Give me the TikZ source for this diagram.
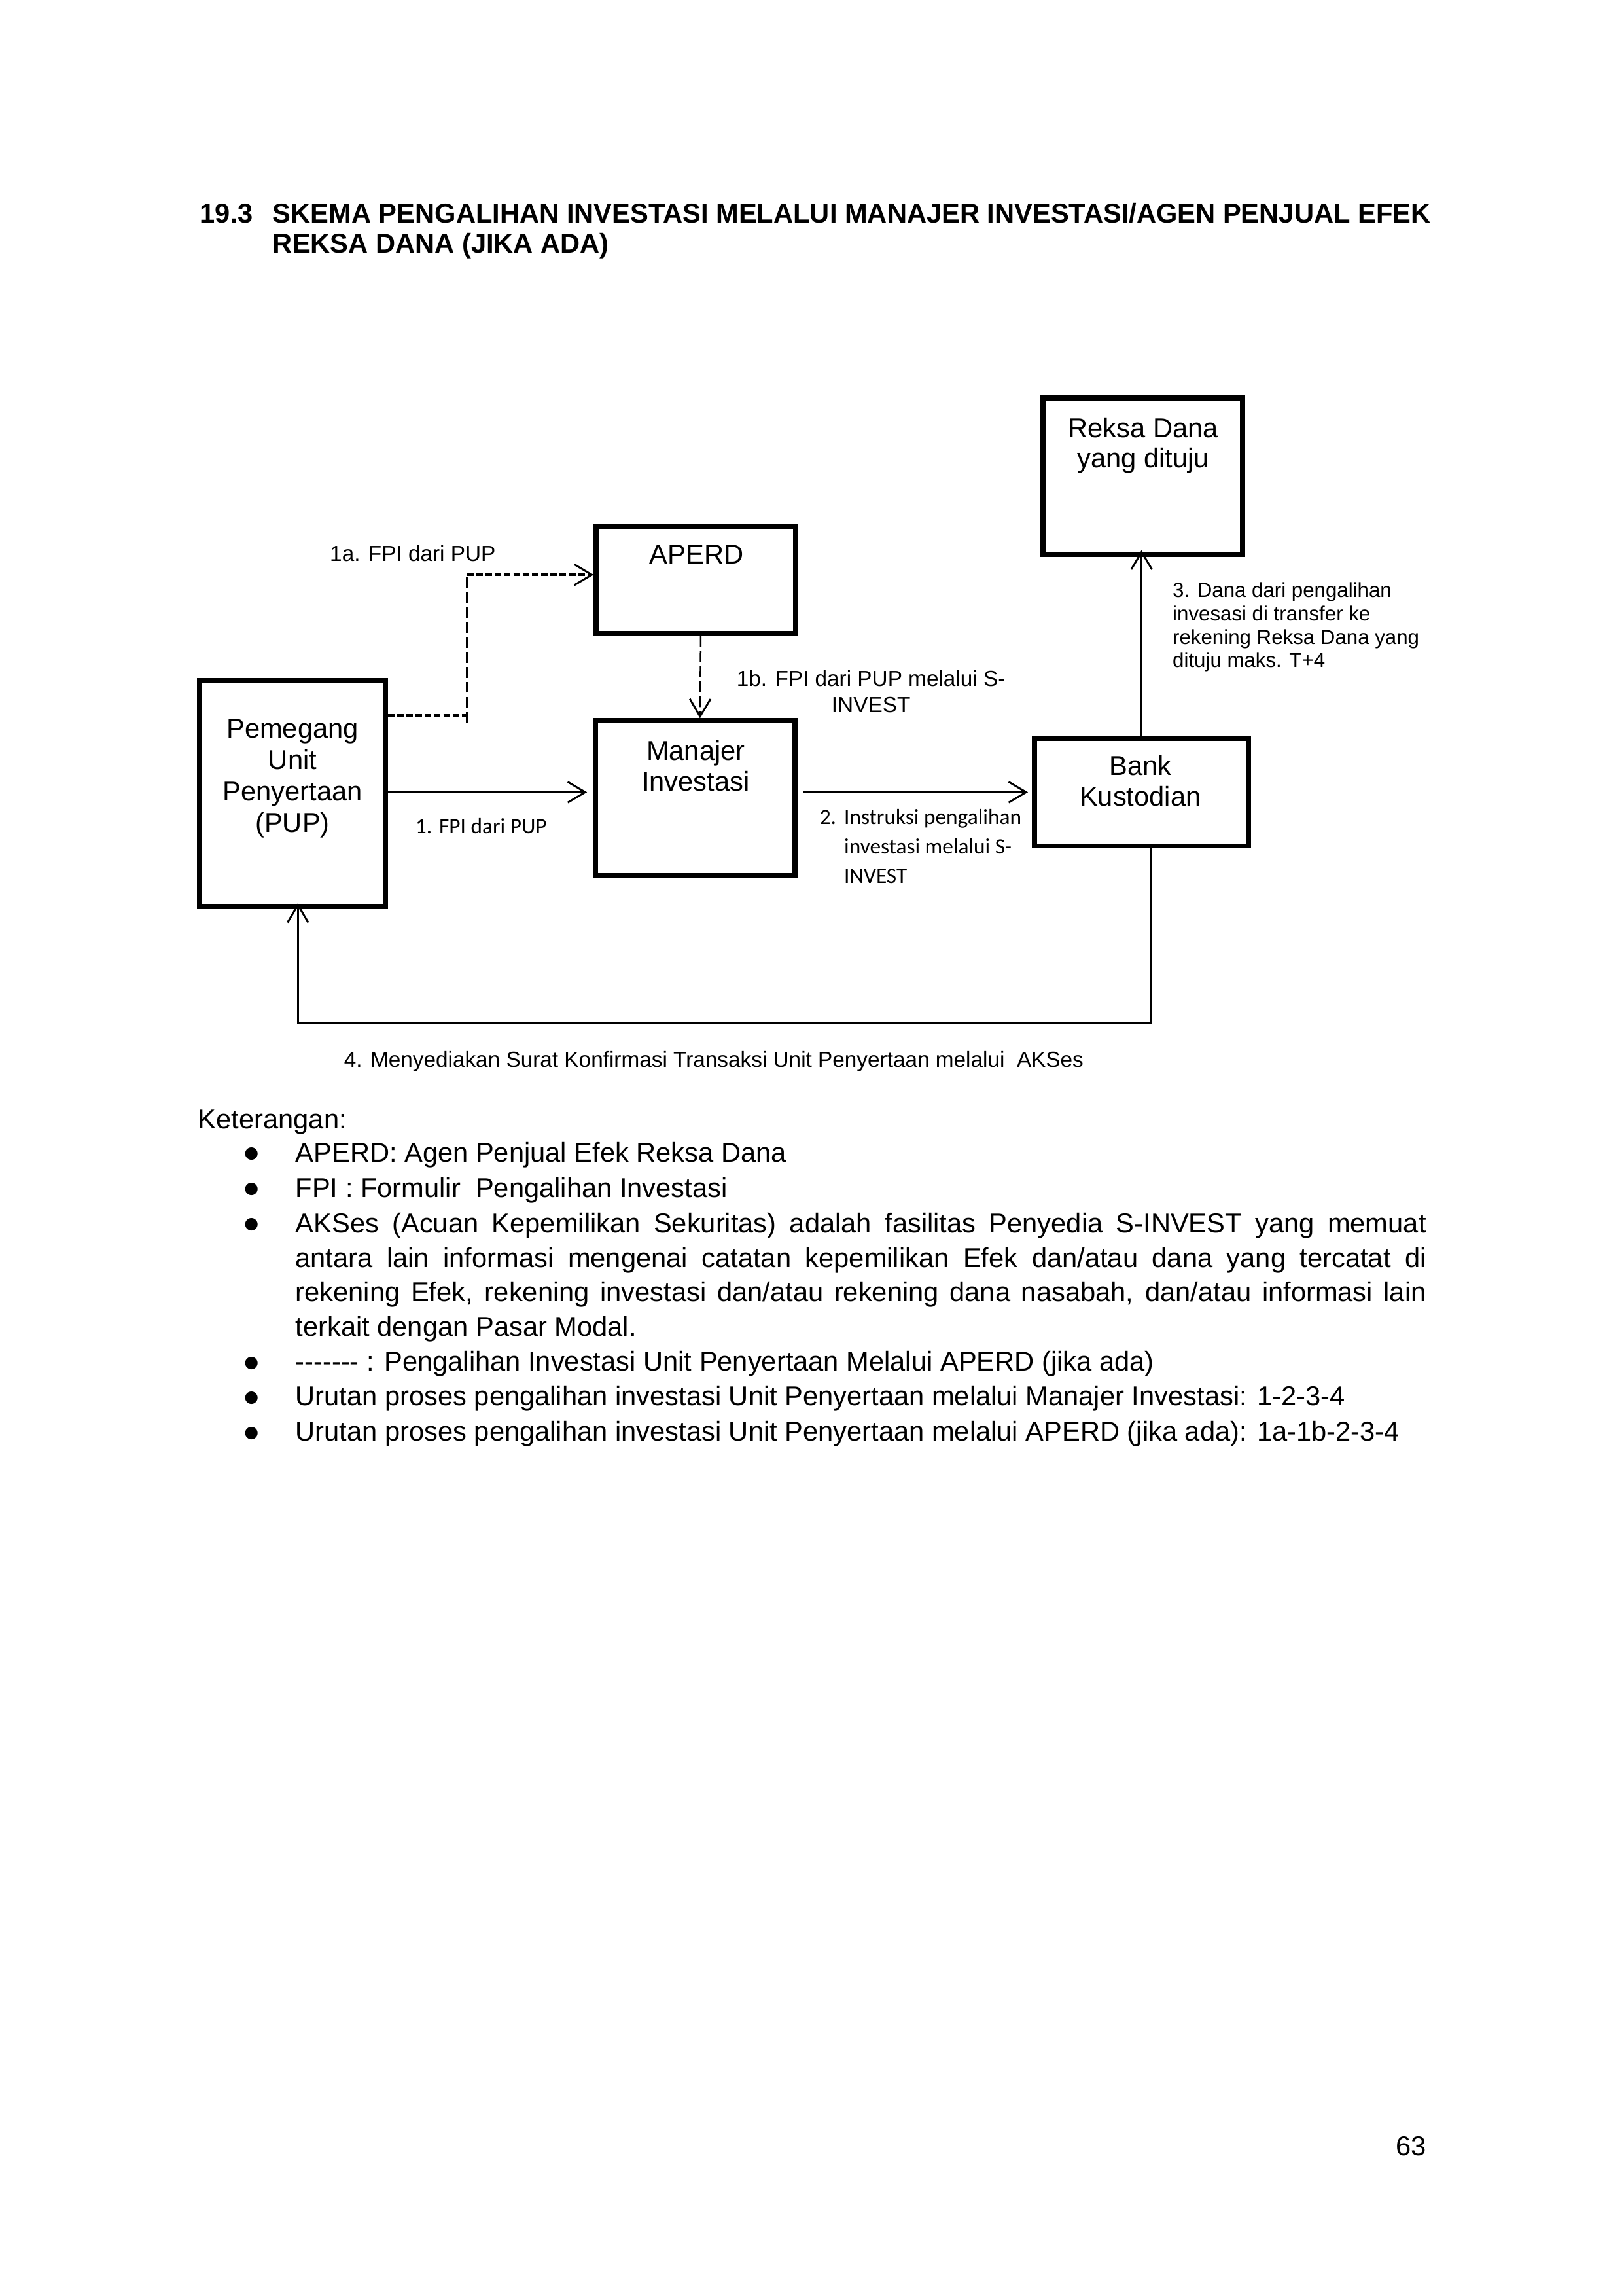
\documentclass[tikz,border=0pt]{standalone}
\usepackage{fontspec}
\setmainfont{Liberation Sans}
\newfontfamily\carlito{Carlito}
\newfontfamily\symfont{DejaVu Sans}
\usetikzlibrary{arrows.meta}

\def\un{0.53692pt}
\newlength\notewidth
\setlength\notewidth{414.77pt}

\tikzset{
  box/.style={draw, rectangle, line width=1.9pt, inner sep=0pt},
  conn/.style={line width=0.7pt},
  tip/.style={-{Straight Barb[length=6.4pt,width=7.6pt,line width=0.7pt]}},
  dashthick/.style={line width=0.9pt, dash pattern=on 2.4pt off 1pt},
  dashthin/.style={line width=0.6pt, dash pattern=on 4pt off 1.5pt},
  txt/.style={inner sep=0pt, anchor=base},
  txtw/.style={inner sep=0pt, anchor=base west},
  boxfont/.style={font=\fontsize{10}{11.5}\selectfont},
  lblfont/.style={font=\fontsize{8}{9.2}\selectfont},
  smallfont/.style={font=\fontsize{7.5}{8.6}\selectfont},
  calfont/.style={font=\carlito\fontsize{8}{9.6}\selectfont},
  bodyfont/.style={font=\fontsize{10}{12.6}\selectfont},
  markfont/.style={font=\symfont\fontsize{6}{6}\selectfont, yshift=1.3pt},
}

\begin{document}
\begin{tikzpicture}[x=\un, y=-\un]
\fill[white] (0,0) rectangle (1109,1568);
\useasboundingbox (0,0) rectangle (1109,1568);

% ---- heading
\node[txtw, font=\bfseries\fontsize{10}{12}\selectfont] (hnum) at (136.3,152) {19.3};
\node[txtw, font=\bfseries\fontsize{10}{12}\selectfont] (h1) at (186,152)
  {SKEMA PENGALIHAN INVESTASI MELALUI MANAJER INVESTASI/AGEN PENJUAL EFEK};
\node[txtw, font=\bfseries\fontsize{10}{12}\selectfont] (h2) at (186,172.6)
  {REKSA DANA (JIKA ADA)};

% ---- boxes
\node[box, minimum width={136.3*\un}, minimum height={106.9*\un}] (reksa) at (780.75,325.25) {};
\node[box, minimum width={136.4*\un}, minimum height={72.9*\un}] (aperd) at (475.5,396.25) {};
\node[box, minimum width={127*\un}, minimum height={154.4*\un}] (pup) at (199.6,542) {};
\node[box, minimum width={136.4*\un}, minimum height={105.9*\un}] (mi) at (475,545.25) {};
\node[box, minimum width={146.1*\un}, minimum height={73.4*\un}] (bank) at (779.85,541) {};

% ---- box captions
\node[txt, boxfont] (reksa-a) at (781,298.6) {Reksa Dana};
\node[txt, boxfont] (reksa-b) at (781,319.4) {yang dituju};
\node[txt, boxfont] (aperd-a) at (475.8,385) {APERD};
\node[txt, boxfont] (pup-a) at (199.8,503.8) {Pemegang};
\node[txt, boxfont] (pup-b) at (199.8,525.5) {Unit};
\node[txt, boxfont] (pup-c) at (199.8,546.8) {Penyertaan};
\node[txt, boxfont] (pup-d) at (199.8,568.5) {(PUP)};
\node[txt, boxfont] (mi-a) at (475.3,519) {Manajer};
\node[txt, boxfont] (mi-b) at (475.3,540) {Investasi};
\node[txt, boxfont] (bank-a) at (779,529.5) {Bank};
\node[txt, boxfont] (bank-b) at (779,550.3) {Kustodian};

% ---- route via APERD (dashed)
\coordinate (k0) at (319,493.6);
\coordinate (k1) at (319,488.6);
\coordinate (k2) at (319,392.5);
\draw[dashthick] (pup.east |- k1) -- (k1);
\draw[dashthin] (k0) -- (k2);
\draw[dashthick, tip] (k2) -- (k2 -| aperd.west);
\draw[dashthin, tip] ([xshift={3.2*\un}]aperd.south) -- ([xshift={3.2*\un}]mi.north);

% ---- main route
\draw[conn, tip, shorten >={4*\un}] (pup.east |- 0,541) -- (mi.west |- 0,541);
\draw[conn, tip, shorten <={3.6*\un}, shorten >={2.8*\un}] (mi.east |- bank.west) -- (bank.west);
\draw[conn, tip, shorten >={-4.8*\un}] (bank.north) -- (bank.north |- reksa.south);
\coordinate (b1) at (786,698.5);
\coordinate (b2) at (203.5,698.5);
\draw[conn, tip, shorten >={-4.2*\un}] (bank.south -| b1) -- (b1) -- (b2) -- (b2 |- pup.south);

% ---- connector labels
\node[txtw, lblfont] (l1a) at (225,383.4) {1a. FPI dari PUP};
\node[txt, lblfont] (l1b-a) at (595,468.8) {1b. FPI dari PUP melalui S-};
\node[txt, lblfont] (l1b-b) at (595,486.4) {INVEST};
\node[txtw, smallfont] (l3-a) at (800.7,407.9) {3. Dana dari pengalihan};
\node[txtw, smallfont] (l3-b) at (800.7,423.9) {invesasi di transfer ke};
\node[txtw, smallfont] (l3-c) at (800.7,439.9) {rekening Reksa Dana yang};
\node[txtw, smallfont] (l3-d) at (800.7,455.9) {dituju maks. T+4};
\node[txtw, calfont] (l1-n) at (283.4,569) {1.};
\node[txtw, calfont] (l1-t) at (299.6,569) {FPI dari PUP};
\node[txtw, calfont] (l2-n) at (559.6,563) {2.};
\node[txtw, calfont] (l2-a) at (576.3,563) {Instruksi pengalihan};
\node[txtw, calfont] (l2-b) at (576.3,583) {investasi melalui S-};
\node[txtw, calfont] (l2-c) at (576.3,603) {INVEST};
\node[txtw, lblfont] (l4) at (234.7,728.7)
  {4. Menyediakan Surat Konfirmasi Transaksi Unit Penyertaan melalui\ \ AKSes};

% ---- notes
\node[txtw, bodyfont] (ket) at (135,771) {Keterangan:};
\foreach \yy/\nm in {793.5/b1, 817.6/b2, 841.7/b3, 936.2/b4, 960/b5, 984/b6}
  \node[txt, markfont] (\nm) at (171.8,\yy) {●};
\node[txtw, bodyfont] (n1) at (201.5,793.5) {APERD: Agen Penjual Efek Reksa Dana};
\node[txtw, bodyfont] (n2) at (201.5,817.6) {FPI : Formulir\ \ Pengalihan Investasi};
\node[txtw, bodyfont] (n3a) at (201.5,841.7) {\makebox[\notewidth][s]{AKSes (Acuan Kepemilikan Sekuritas) adalah fasilitas Penyedia S-INVEST yang memuat}};
\node[txtw, bodyfont] (n3b) at (201.5,865.4) {\makebox[\notewidth][s]{antara lain informasi mengenai catatan kepemilikan Efek dan/atau dana yang tercatat di}};
\node[txtw, bodyfont] (n3c) at (201.5,889) {\makebox[\notewidth][s]{rekening Efek, rekening investasi dan/atau rekening dana nasabah, dan/atau informasi lain}};
\node[txtw, bodyfont] (n3d) at (201.5,912.5) {terkait dengan Pasar Modal.};
\node[txtw, bodyfont] (n4) at (201.5,936.2) {-{}-{}-{}-{}-{}-{}- : Pengalihan Investasi Unit Penyertaan Melalui APERD (jika ada)};
\node[txtw, bodyfont] (n5) at (201.5,960) {Urutan proses pengalihan investasi Unit Penyertaan melalui Manajer Investasi: 1-2-3-4};
\node[txtw, bodyfont] (n6) at (201.5,984) {Urutan proses pengalihan investasi Unit Penyertaan melalui APERD (jika ada): 1a-1b-2-3-4};

% ---- page number
\node[inner sep=0pt, anchor=base east, bodyfont] (page) at (974.8,1472) {63};
\end{tikzpicture}
\end{document}
